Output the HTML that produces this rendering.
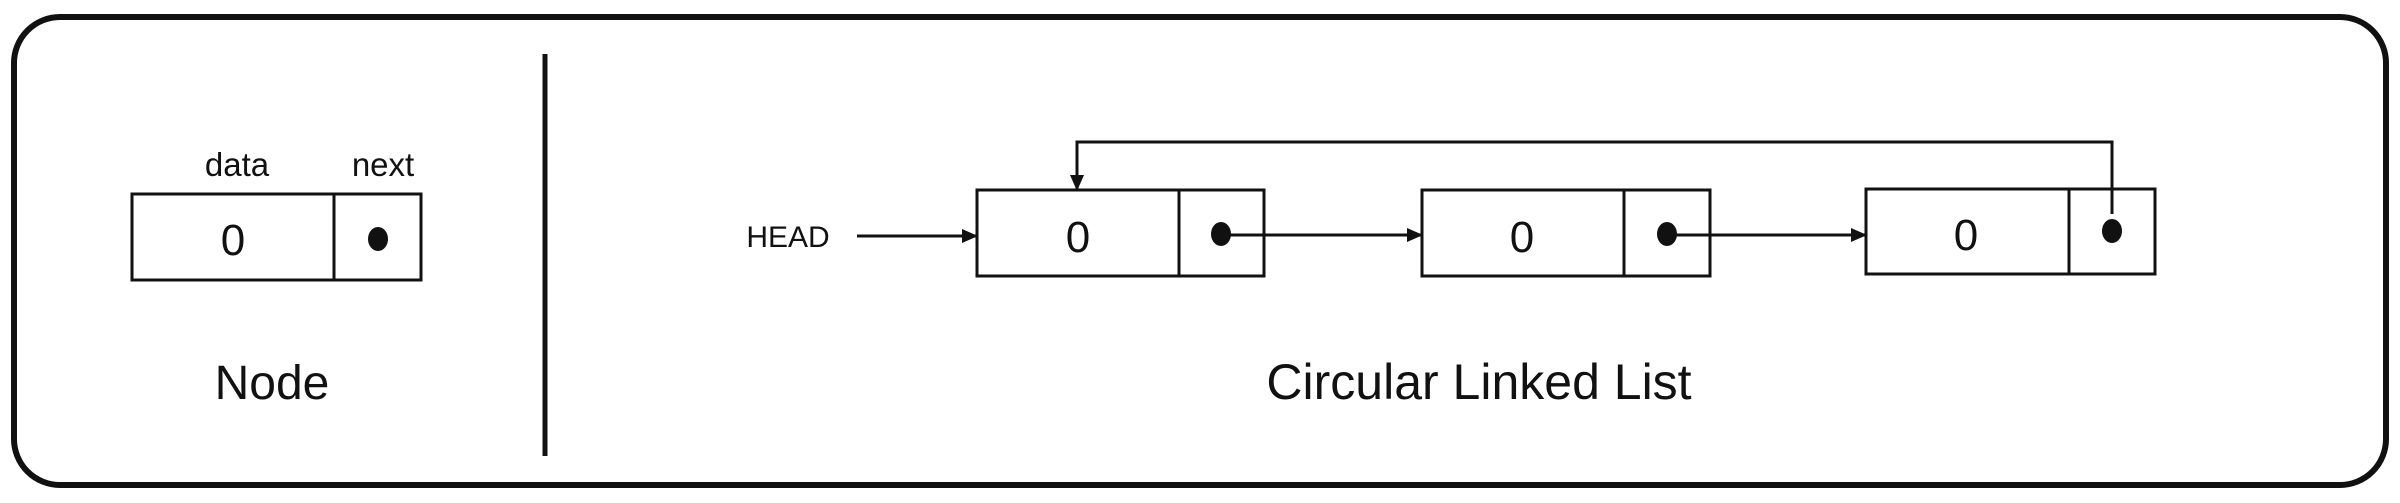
<!DOCTYPE html>
<html><head><meta charset="utf-8"><style>
html,body{margin:0;padding:0;background:#fff;}
svg{display:block;}
text{font-family:"Liberation Sans",sans-serif;fill:#111;}
</style></head><body>
<svg width="2400" height="503" viewBox="0 0 2400 503">
<defs>
<marker id="ahb" markerWidth="16" markerHeight="14" refX="15" refY="7" orient="auto" markerUnits="userSpaceOnUse" viewBox="0 0 16 14">
<path d="M0,0 L16,7 L0,14 z" fill="#111"/></marker>
</defs>
<rect x="14" y="17" width="2372" height="468" rx="46" fill="#fff" stroke="#111" stroke-width="6"/>
<line x1="545" y1="54" x2="545" y2="456" stroke="#111" stroke-width="5"/>

<g>
<text x="237" y="176" font-size="33" text-anchor="middle">data</text>
<text x="383" y="176" font-size="33" text-anchor="middle">next</text>
<rect x="132" y="194" width="289" height="86" fill="none" stroke="#111" stroke-width="3"/>
<line x1="334" y1="194" x2="334" y2="280" stroke="#111" stroke-width="3"/>
<text x="233" y="255" font-size="44" text-anchor="middle">0</text>
<ellipse cx="378" cy="239" rx="10" ry="12" fill="#111"/>
<text x="272" y="399" font-size="48" text-anchor="middle">Node</text>
</g>

<text x="788" y="247" font-size="30" text-anchor="middle">HEAD</text>
<line x1="857" y1="236" x2="977" y2="236" stroke="#111" stroke-width="3" marker-end="url(#ahb)"/>

<g>
<rect x="977" y="190" width="287" height="86" fill="none" stroke="#111" stroke-width="3"/>
<line x1="1179" y1="190" x2="1179" y2="276" stroke="#111" stroke-width="3"/>
<text x="1078" y="252" font-size="44" text-anchor="middle">0</text>
<ellipse cx="1221" cy="234" rx="10" ry="12" fill="#111"/>
</g>
<line x1="1221" y1="235" x2="1422" y2="235" stroke="#111" stroke-width="3" marker-end="url(#ahb)"/>

<g>
<rect x="1422" y="190" width="288" height="86" fill="none" stroke="#111" stroke-width="3"/>
<line x1="1624" y1="190" x2="1624" y2="276" stroke="#111" stroke-width="3"/>
<text x="1522" y="252" font-size="44" text-anchor="middle">0</text>
<ellipse cx="1667" cy="234" rx="10" ry="12" fill="#111"/>
</g>
<line x1="1667" y1="235" x2="1866" y2="235" stroke="#111" stroke-width="3" marker-end="url(#ahb)"/>

<g>
<rect x="1866" y="189" width="289" height="85" fill="none" stroke="#111" stroke-width="3"/>
<line x1="2069" y1="189" x2="2069" y2="274" stroke="#111" stroke-width="3"/>
<text x="1966" y="250" font-size="44" text-anchor="middle">0</text>
<ellipse cx="2112" cy="231" rx="10" ry="12" fill="#111"/>
</g>
<polyline points="2112,214 2112,142 1077,142 1077,190" fill="none" stroke="#111" stroke-width="3" marker-end="url(#ahb)"/>

<text x="1479" y="399" font-size="50" text-anchor="middle">Circular Linked List</text>
</svg>
</body></html>
